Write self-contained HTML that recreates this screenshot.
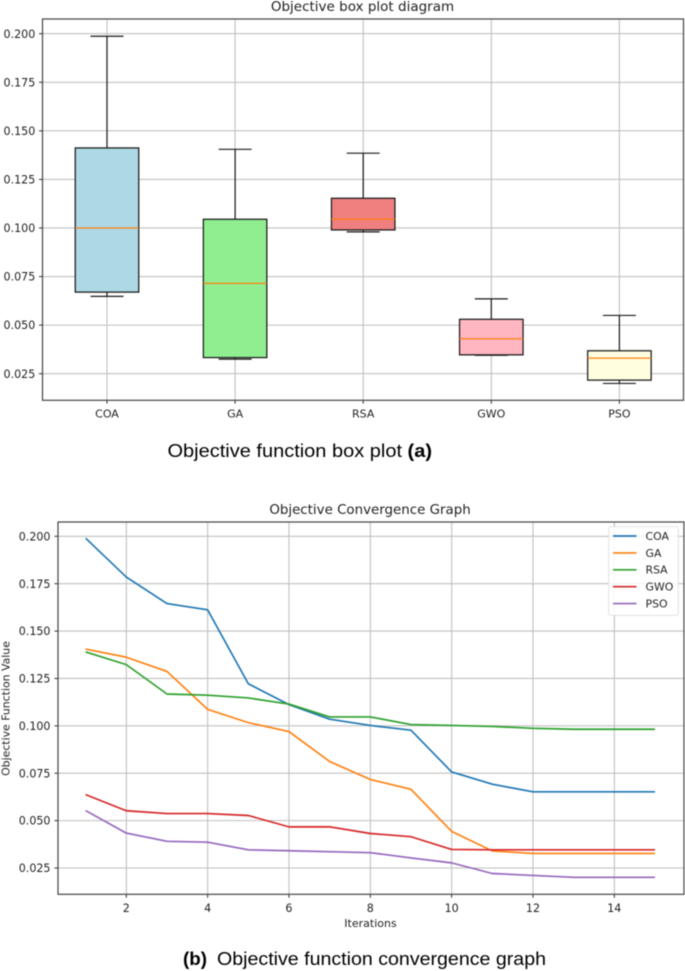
<!DOCTYPE html>
<html>
<head>
<meta charset="utf-8">
<style>
html,body{margin:0;padding:0;background:#fff;width:685px;height:971px;overflow:hidden}
svg{display:block;filter:blur(0.4px)}
text{font-family:"DejaVu Sans","Liberation Sans",sans-serif;fill:#222}
.cap{font-family:"Liberation Sans",sans-serif;fill:#000;font-size:18px}
</style>
</head>
<body>
<svg id="fig" xmlns="http://www.w3.org/2000/svg" width="685" height="971" viewBox="0 0 685 971">
  <g id="top-chart">
    <text x="362.5" y="11" text-anchor="middle" font-size="13.5">Objective box plot diagram</text>
  </g>
  <text class="cap" x="167.5" y="457" textLength="264.5" lengthAdjust="spacingAndGlyphs">Objective function box plot <tspan font-weight="bold">(a)</tspan></text>
  <g id="bottom-chart">
    <text x="370" y="514" text-anchor="middle" font-size="13.4">Objective Convergence Graph</text>
    <text x="370.5" y="927" text-anchor="middle" font-size="11">Iterations</text>
    <text transform="translate(9.5,708.5) rotate(-90)" text-anchor="middle" font-size="10.9">Objective Function Value</text>
  </g>
  <text class="cap" x="183" y="965" font-weight="bold" textLength="24" lengthAdjust="spacingAndGlyphs">(b)</text>
  <text class="cap" x="217" y="965" textLength="329" lengthAdjust="spacingAndGlyphs">Objective function convergence graph</text>
</svg>
<script>
// Box plot data
const boxCategories = ['COA', 'GA', 'RSA', 'GWO', 'PSO'];
const boxColors = ['#add8e6', '#90ee90', '#f08080', '#ffb6c1', '#ffffe0'];
const whiskerLow = [0.0648, 0.0325, 0.0980, 0.0345, 0.0200];
const boxQ1 = [0.0670, 0.0333, 0.0990, 0.0347, 0.0217];
const boxMedian = [0.1000, 0.0715, 0.1045, 0.0430, 0.0330];
const boxQ3 = [0.1412, 0.1045, 0.1153, 0.0530, 0.0368];
const whiskerHigh = [0.1987, 0.1405, 0.1385, 0.0635, 0.0550];
const yTickLabels = ['0.200', '0.175', '0.150', '0.125', '0.100', '0.075', '0.050', '0.025'];

// Convergence data
const iterations = [1, 2, 3, 4, 5, 6, 7, 8, 9, 10, 11, 12, 13, 14, 15];
const xTickLabels = ['2', '4', '6', '8', '10', '12', '14'];
const seriesNames = ['COA', 'GA', 'RSA', 'GWO', 'PSO'];
const seriesColors = ['#1f77b4', '#ff7f0e', '#2ca02c', '#d62728', '#9467bd'];
const coaValues = [0.1990, 0.1785, 0.1645, 0.1612, 0.1222, 0.1112, 0.1035, 0.1002, 0.0977, 0.0757, 0.0692, 0.0652, 0.0652, 0.0652, 0.0652];
const gaValues = [0.1405, 0.1362, 0.1287, 0.1087, 0.1017, 0.0970, 0.0812, 0.0717, 0.0665, 0.0443, 0.0340, 0.0327, 0.0327, 0.0327, 0.0327];
const rsaValues = [0.1390, 0.1323, 0.1168, 0.1162, 0.1147, 0.1115, 0.1047, 0.1047, 0.1007, 0.1002, 0.0997, 0.0987, 0.0982, 0.0982, 0.0982];
const gwoValues = [0.0637, 0.0552, 0.0537, 0.0537, 0.0527, 0.0467, 0.0467, 0.0432, 0.0415, 0.0348, 0.0346, 0.0346, 0.0346, 0.0346, 0.0346];
const psoValues = [0.0553, 0.0434, 0.0391, 0.0386, 0.0346, 0.0341, 0.0336, 0.0331, 0.0303, 0.0277, 0.0221, 0.0211, 0.0201, 0.0201, 0.0201];
const seriesValues = [coaValues, gaValues, rsaValues, gwoValues, psoValues];

const NS = 'http://www.w3.org/2000/svg';
const gridColor = '#c0c0c0';
const spineColor = '#444';
const inkColor = '#1a1a1a';

function mk(tag, attrs, parent) {
  const el = document.createElementNS(NS, tag);
  for (const k in attrs) el.setAttribute(k, attrs[k]);
  parent.appendChild(el);
  return el;
}
function line(x1, y1, x2, y2, stroke, w, parent) {
  return mk('line', { x1: x1, y1: y1, x2: x2, y2: y2, stroke: stroke, 'stroke-width': w }, parent);
}

// ---- Box plot axes ----
const topG = document.getElementById('top-chart');
const T = { left: 42.5, right: 683.5, top: 19, bottom: 400.3 };
const topY = v => 33.7 + (0.2 - v) * (373.7 - 33.7) / 0.175;
const topX = i => 107 + i * 128.1;

yTickLabels.forEach(lbl => {
  const y = topY(parseFloat(lbl));
  const g = line(T.left, y, T.right, y, gridColor, 1.1, topG);
  
  
  const t = line(T.left - 3.5, y, T.left, y, inkColor, 0.9, topG);
  
  
  const tx = mk('text', { x: 35.3, y: y + 4.1, 'text-anchor': 'end', 'font-size': 11.1 }, topG);
  tx.textContent = lbl;
  
  
});

boxCategories.forEach((name, i) => {
  const x = topX(i);
  const g = line(x, T.top, x, T.bottom, gridColor, 1.1, topG);
  
  
  const t = line(x, T.bottom, x, T.bottom + 3.5, inkColor, 0.9, topG);
  
  
  const tx = mk('text', { x: x, y: 417.5, 'text-anchor': 'middle', 'font-size': 11 }, topG);
  tx.textContent = name;
  
  
});

boxCategories.forEach((name, i) => {
  const x = topX(i);
  const boxW = 63.5, capW = 33;
  const key = name.toLowerCase();
  const lo = line(x, topY(whiskerLow[i]), x, topY(boxQ1[i]), inkColor, 1.2, topG);
  
  
  const hi = line(x, topY(boxQ3[i]), x, topY(whiskerHigh[i]), inkColor, 1.2, topG);
  
  
  const cl = line(x - capW / 2, topY(whiskerLow[i]), x + capW / 2, topY(whiskerLow[i]), inkColor, 1.2, topG);
  
  
  const ch = line(x - capW / 2, topY(whiskerHigh[i]), x + capW / 2, topY(whiskerHigh[i]), inkColor, 1.2, topG);
  
  
  const r = mk('rect', { x: x - boxW / 2, y: topY(boxQ3[i]), width: boxW, height: topY(boxQ1[i]) - topY(boxQ3[i]), fill: boxColors[i], stroke: inkColor, 'stroke-width': 1.25 }, topG);
  
  
  const m = line(x - boxW / 2, topY(boxMedian[i]), x + boxW / 2, topY(boxMedian[i]), '#ff7f0e', 1.2, topG);
  
  
});

const topFrame = mk('rect', { x: T.left, y: T.top, width: T.right - T.left, height: T.bottom - T.top, fill: 'none', stroke: spineColor, 'stroke-width': 1.2 }, topG);



// ---- Convergence axes ----
const botG = document.getElementById('bottom-chart');
const B = { left: 58, right: 684, top: 522, bottom: 894.3 };
const botY = v => 536.3 + (0.2 - v) * (868 - 536.3) / 0.175;
const botX = v => 126.3 + (v - 2) * (614.3 - 126.3) / 12;

yTickLabels.forEach(lbl => {
  const y = botY(parseFloat(lbl));
  const g = line(B.left, y, B.right, y, gridColor, 1.1, botG);
  
  
  const t = line(B.left - 3.5, y, B.left, y, inkColor, 0.9, botG);
  
  
  const tx = mk('text', { x: 50.5, y: y + 4.1, 'text-anchor': 'end', 'font-size': 11.1 }, botG);
  tx.textContent = lbl;
  
  
});

xTickLabels.forEach(lbl => {
  const x = botX(parseFloat(lbl));
  const g = line(x, B.top, x, B.bottom, gridColor, 1.1, botG);
  
  
  const t = line(x, B.bottom, x, B.bottom + 3.5, inkColor, 0.9, botG);
  
  
  const tx = mk('text', { x: x, y: 912, 'text-anchor': 'middle', 'font-size': 11.1 }, botG);
  tx.textContent = lbl;
  
  
});

seriesValues.forEach((vals, s) => {
  const pts = vals.map((v, i) => botX(iterations[i]).toFixed(2) + ',' + botY(v).toFixed(2)).join(' ');
  const p = mk('polyline', { points: pts, fill: 'none', stroke: seriesColors[s], 'stroke-width': 1.65, 'stroke-linejoin': 'round' }, botG);
  
  
});

const botFrame = mk('rect', { x: B.left, y: B.top, width: B.right - B.left, height: B.bottom - B.top, fill: 'none', stroke: spineColor, 'stroke-width': 1.2 }, botG);



// ---- Legend ----
const legend = mk('g', {}, botG);


const legendBox = mk('rect', { x: 608.7, y: 526.7, width: 69.6, height: 88.6, rx: 2, fill: '#fff', 'fill-opacity': 0.85, stroke: '#dedede', 'stroke-width': 0.9 }, legend);


seriesNames.forEach((name, s) => {
  const y = 536 + s * 16.9;
  const l = line(613, y, 636.5, y, seriesColors[s], 1.65, legend);
  
  
  const t = mk('text', { x: 645.5, y: y + 3.9, 'font-size': 10.9 }, legend);
  t.textContent = name;
  
  
});
</script>
</body>
</html>
